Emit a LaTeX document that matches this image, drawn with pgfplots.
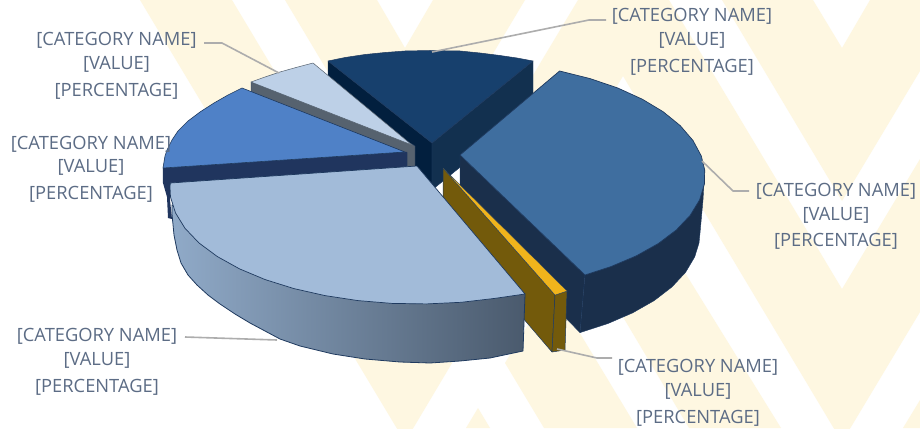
\documentclass[border=0pt]{standalone}
\usepackage{fontspec}
\setmainfont{Open Sans}
\usepackage{pgfplots}
\pgfplotsset{compat=1.18}
\definecolor{bandc}{HTML}{FEF7E1}
\definecolor{labelc}{HTML}{5C6C85}
\definecolor{leader}{HTML}{ADADAD}
\definecolor{edge}{HTML}{1F3A5F}
\definecolor{navytop}{HTML}{17406D}
\definecolor{navyleft}{HTML}{021F3E}
\definecolor{navyright}{HTML}{12304F}
\definecolor{bluetop}{HTML}{3F6E9F}
\definecolor{blueside}{HTML}{1A2F4B}
\definecolor{goldtop}{HTML}{F0B41C}
\definecolor{goldside}{HTML}{735A0B}
\definecolor{midtop}{HTML}{4F81C7}
\definecolor{midside}{HTML}{20355E}
\definecolor{paletop}{HTML}{BDD0E7}
\definecolor{paleside}{HTML}{56626F}
\definecolor{bigtop}{HTML}{A2BBD9}
\definecolor{bigleft}{HTML}{90AAC8}
\definecolor{bigmid}{HTML}{74899F}
\definecolor{bigright}{HTML}{4A5A6D}
\newcommand{\lab}[3]{\node[text=labelc,font=\fontsize{18.3}{20}\selectfont,anchor=center,inner sep=0pt] at (axis cs:#1,#2) {#3};}
\begin{document}
\begin{tikzpicture}
\begin{axis}[
  scale only axis, width=920pt, height=428pt,
  xmin=0, xmax=920, ymin=0, ymax=428, y dir=reverse,
  hide axis,
  every axis plot/.append style={line join=round},
]
% page ground
\addplot[fill=white,draw=none] coordinates {(0,0)(920,0)(920,428)(0,428)} --cycle;
% chevron backdrop
\addplot[fill=bandc,draw=none] coordinates {(285,0)(377,0)(405,48)(433,0)(525,0)(405,201)} --cycle;
\addplot[fill=bandc,draw=none] coordinates {(722,0)(813,0)(842,48)(870,0)(920,0)(920,71)(842,201)} --cycle;
\addplot[fill=bandc,draw=none] coordinates {(140,0)(232,0)(405,289)(578,0)(669,0)(842,289)(920,159)(920,312)(842,442)(623,76)(405,442)} --cycle;
\addplot[fill=bandc,draw=none] coordinates {(623,317)(689,428)(781,428)(640,200)(600,250)} --cycle;
\addplot[fill=bandc,draw=none] coordinates {(505,363)(544,428)(637,428)(578,330)(560,300)(540,305)} --cycle;
\addplot[fill=bandc,draw=none] coordinates {(478,408)(490,428)(466,428)} --cycle;
\addplot[fill=bandc,draw=none] coordinates {(903,428)(920,400)(920,428)} --cycle;
% dark slice: cut faces and top
\addplot[fill=navyleft,draw=edge,line width=.4pt] coordinates {(328,61)(432,143)(432,190)(328,108)} --cycle;
\addplot[fill=navyright,draw=edge,line width=.4pt] coordinates {(432,143)(533,61)(533,108)(432,190)} --cycle;
\addplot[fill=navytop,draw=edge,line width=.5pt] coordinates {(328,61)(345,57.5)(365,54.5)(385,52.5)(405,51)(430,50.5)(460,51)(480,53)(500,55.5)(517,58)(533,61)(432,143)} --cycle;
% steel blue slice
\addplot[fill=blueside,draw=edge,line width=.4pt] coordinates {(460,155)(585,275)(580,332.6)(460,210)} --cycle;
\addplot[fill=blueside,draw=edge,line width=.4pt] coordinates {(704.7,170)(703,200)(700,233)(699,243)(694.7,256.9)(685.6,272.3)(671.9,287)(654.2,300.6)(632.6,312.9)(607.8,323.6)(580,332.6)(585,275)} --cycle;
\addplot[fill=bluetop,draw=edge,line width=.7pt] coordinates {(460,155)(559.6,71)(589.8,78.5)(617.5,87.9)(642.1,99.1)(663.1,111.7)(680.2,125.6)(693,140.5)(701.3,156)(704.7,170)(704.4,184)(699.6,199.9)(690.2,215.3)(676.3,230)(658.2,243.6)(636.2,255.9)(610.9,266.6)(585,275)} --cycle;
% gaps between the cut faces
\addplot[fill=white,draw=none] coordinates {(454,175)(457,172)(457,179)} --cycle;
\addplot[fill=white,draw=none] coordinates {(438,188)(442,185)(442,192)} --cycle;
% gold slice
\addplot[fill=goldside,draw=edge,line width=.5pt] coordinates {(443,168)(555,295)(552,352)(443,225)} --cycle;
\addplot[fill=goldside,draw=edge,line width=.5pt] coordinates {(555,295)(567,291)(565,350)(552,352)} --cycle;
\addplot[fill=goldtop,draw=edge,line width=.3pt] coordinates {(443,168)(567,291)(555,295)} --cycle;
% pale slice
\addplot[fill=paleside,draw=edge,line width=.4pt] coordinates {(251,82)(412,144)(415,146)(415,167)(407,167)(407,153)(251,92)} --cycle;
\addplot[fill=paletop,draw=paleside,line width=.5pt] coordinates {(251,82)(265,77)(280,72)(296,67.5)(313,63)(412,145)} --cycle;
% mid blue slice
\addplot[fill=midside,draw=edge,line width=.4pt] coordinates {(163,168)(405,152)(407,152)(407,167)(170,184)(163,183)} --cycle;
\addplot[fill=midtop,draw=edge,line width=.6pt] coordinates {(163,168)(165,156)(167,150)(172,140)(178,131)(188,121)(200,112)(214,103)(228,95)(242,88)(405,152)} --cycle;
% large slice: curved wall with its shading, then the top
\addplot[left color=bigleft,middle color=bigmid,right color=bigright,draw=edge,line width=.8pt] coordinates {(172,205)(172,214)(174,235)(177,250)(181,263)(188,275)(197,285)(208,295)(220,304)(235,314)(250,323)(265,331)(280,339)(300,346)(333,354)(365,359)(400,362)(430,363)(460,361)(490,358)(523,351)(525,294)(418,250)} --cycle;
\addplot[fill=midside,draw=none] coordinates {(163,168)(163,183)(167,197)(168,218)(172,219)(170,200)(170,183)} --cycle;
\addplot[fill=bigtop,draw=edge,line width=.7pt] coordinates {(417,166)(525,294)(494.6,298.4)(461.1,302.3)(426.7,303.9)(392,303.4)(358,300.6)(325,295.6)(294,288.6)(265.2,279.6)(239.6,268.9)(217.4,256.6)(199,243)(185,228.3)(175.5,212.9)(170.5,197)(170,187)(170.3,183)} --cycle;
% leader lines
\addplot[leader,line width=1.6pt] coordinates {(204,43)(222,43)(279,73)};
\addplot[leader,line width=1.6pt] coordinates {(432,52)(589,20)(606,20)};
\addplot[leader,line width=1.6pt] coordinates {(702,161)(733,191)(749,191)};
\addplot[leader,line width=1.6pt] coordinates {(557,349)(597,358)(612,358)};
\addplot[leader,line width=1.6pt] coordinates {(185,337)(277,340)};
% data labels
\lab{116.5}{40}{[CATEGORY NAME]}\lab{116.5}{64}{[VALUE]}\lab{116.5}{91}{[PERCENTAGE]}
\lab{91}{144}{[CATEGORY NAME]}\lab{91}{167}{[VALUE]}\lab{91}{194}{[PERCENTAGE]}
\lab{692}{16}{[CATEGORY NAME]}\lab{692}{40}{[VALUE]}\lab{692}{67}{[PERCENTAGE]}
\lab{836}{191}{[CATEGORY NAME]}\lab{836}{215}{[VALUE]}\lab{836}{241}{[PERCENTAGE]}
\lab{97}{336}{[CATEGORY NAME]}\lab{97}{360}{[VALUE]}\lab{97}{387}{[PERCENTAGE]}
\lab{698}{367}{[CATEGORY NAME]}\lab{698}{391}{[VALUE]}\lab{698}{418}{[PERCENTAGE]}
\end{axis}
\end{tikzpicture}
\end{document}
